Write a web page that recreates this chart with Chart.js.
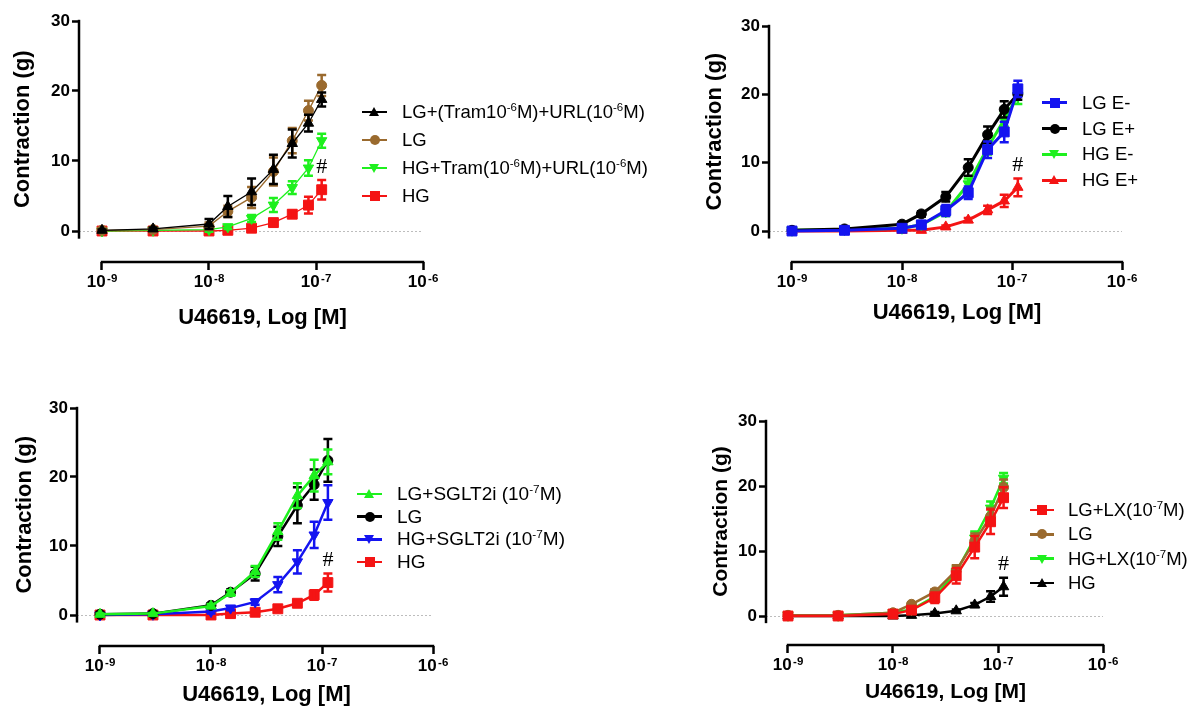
<!DOCTYPE html>
<html lang="en">
<head>
<meta charset="UTF-8">
<title>U46619 contraction curves</title>
<script src="https://cdn.jsdelivr.net/npm/chart.js"></script>
<style>
  body { margin:0; background:#fff; width:1196px; height:709px; position:relative; overflow:hidden;
         font-family:'Liberation Sans', Arial, sans-serif; }
  canvas { position:absolute; }
  .legend { position:absolute; color:#000; }
  .legend .row { display:flex; align-items:center; white-space:nowrap; }
  .legend .key { position:relative; height:12px; flex:none; }
  .legend .ln { position:absolute; left:0; right:0; top:50%; }
  .legend .mk { position:absolute; left:50%; top:50%; }
  .legend sup { font-size:0.62em; line-height:0; vertical-align:0.62em; }
</style>
</head>
<body>

<canvas id="chartA" width="450" height="340" style="left:0;top:0"></canvas>
<canvas id="chartB" width="460" height="340" style="left:690px;top:0"></canvas>
<canvas id="chartC" width="460" height="319" style="left:0;top:390px"></canvas>
<canvas id="chartD" width="440" height="309" style="left:690px;top:400px"></canvas>

<div class="legend" id="legendA"></div>
<div class="legend" id="legendB"></div>
<div class="legend" id="legendC"></div>
<div class="legend" id="legendD"></div>

<script>
// ---- dados ----
const conc = [1e-9, 3e-9, 1e-8, 1.5e-8, 2.5e-8, 4e-8, 6e-8, 8.5e-8, 1.13e-7];
const xTicks = [1e-9, 1e-8, 1e-7, 1e-6];
const yTicks = [0, 10, 20, 30];
const xTitle = 'U46619, Log [M]';
const yTitle = 'Contraction (g)';

// painel A
const aNames = ['LG+(Tram10<sup>-6</sup>M)+URL(10<sup>-6</sup>M)', 'LG', 'HG+Tram(10<sup>-6</sup>M)+URL(10<sup>-6</sup>M)', 'HG'];
const aLGTram = [0.1, 0.3, 1.0, 3.5, 5.6, 8.8, 12.5, 15.4, 18.8];
const aLGTramErr = [0.1, 0.2, 0.7, 1.5, 1.9, 2.1, 2.0, 1.2, 1.0];
const aLG = [0.1, 0.2, 0.7, 2.8, 4.8, 8.5, 12.9, 17.2, 20.8];
const aLGErr = [0.1, 0.1, 0.5, 0.8, 1.5, 2.0, 1.8, 1.4, 1.5];
const aHGTram = [0.0, 0.1, 0.2, 0.6, 1.8, 3.7, 6.2, 9.0, 12.9];
const aHGTramErr = [0.1, 0.1, 0.3, 0.3, 0.5, 1.0, 0.9, 1.1, 1.0];
const aHG = [0.0, 0.0, 0.0, 0.1, 0.4, 1.2, 2.4, 3.7, 5.9];
const aHGErr = [0, 0, 0.1, 0.2, 0.3, 0.4, 0.5, 1.2, 1.4];

// painel B
const bNames = ['LG E-', 'LG E+', 'HG E-', 'HG E+'];
const bLGminus = [0.0, 0.1, 0.4, 0.9, 3.0, 5.6, 11.9, 14.5, 20.8];
const bLGminusErr = [0.1, 0.1, 0.3, 0.4, 0.8, 0.9, 1.2, 1.5, 1.2];
const bLGplus = [0.1, 0.3, 1.0, 2.5, 5.0, 9.3, 14.1, 17.8, 20.0];
const bLGplusErr = [0.1, 0.1, 0.3, 0.4, 0.7, 1.2, 1.2, 1.2, 0.8];
const bHGminus = [0.1, 0.2, 0.4, 0.9, 2.8, 6.9, 12.2, 16.3, 19.8];
const bHGminusErr = [0.1, 0.1, 0.3, 0.3, 0.6, 0.8, 1.0, 1.0, 1.2];
const bHGplus = [0.0, 0.0, 0.1, 0.1, 0.6, 1.6, 3.1, 4.4, 6.4];
const bHGplusErr = [0, 0, 0.1, 0.2, 0.2, 0.3, 0.6, 0.9, 1.3];

// painel C
const cNames = ['LG+SGLT2i (10<sup>-7</sup>M)', 'LG', 'HG+SGLT2i (10<sup>-7</sup>M)', 'HG'];
const cLGSglt = [0.1, 0.2, 1.3, 3.2, 6.3, 12.1, 17.3, 20.2, 22.2];
const cLGSgltErr = [0.1, 0.1, 0.3, 0.4, 0.8, 1.2, 1.8, 2.3, 1.8];
const cLG = [0.1, 0.2, 1.4, 3.3, 6.0, 11.4, 15.9, 18.9, 22.4];
const cLGErr = [0.1, 0.1, 0.3, 0.4, 1.0, 1.4, 2.6, 2.2, 3.1];
const cHGSglt = [0.0, 0.1, 0.5, 1.0, 1.9, 4.4, 7.7, 11.6, 16.3];
const cHGSgltErr = [0.1, 0.1, 0.3, 0.3, 0.4, 1.1, 1.7, 1.9, 2.5];
const cHG = [0.0, 0.0, 0.0, 0.2, 0.4, 0.9, 1.7, 2.9, 4.7];
const cHGErr = [0, 0, 0.1, 0.2, 0.2, 0.2, 0.3, 0.7, 1.3];

// painel D
const dNames = ['LG+LX(10<sup>-7</sup>M)', 'LG', 'HG+LX(10<sup>-7</sup>M)', 'HG'];
const dLGLx = [0.0, 0.0, 0.3, 0.9, 2.8, 6.2, 10.6, 14.5, 18.2];
const dLGLxErr = [0.1, 0.1, 0.2, 0.3, 0.8, 1.2, 1.7, 1.9, 1.6];
const dLG = [0.1, 0.1, 0.5, 1.8, 3.7, 7.0, 11.5, 15.3, 19.8];
const dLGErr = [0.1, 0.1, 0.2, 0.3, 0.4, 0.8, 1.2, 1.3, 1.2];
const dHGLx = [0.1, 0.1, 0.5, 1.0, 3.0, 6.8, 12.0, 16.6, 21.2];
const dHGLxErr = [0.1, 0.1, 0.2, 0.3, 0.5, 0.8, 1.0, 1.0, 0.8];
const dHG = [0.0, 0.0, 0.0, 0.1, 0.4, 0.8, 1.7, 3.0, 4.5];
const dHGErr = [0, 0, 0.1, 0.1, 0.2, 0.2, 0.3, 0.8, 1.4];

// ---- cores e estilos ----
const BLACK = '#000000', BROWN = '#9a6a2e', GREEN = '#1ef01e', RED = '#f41414', BLUE = '#1414f0';
const FONT = "'Liberation Sans', Arial, sans-serif";
Chart.defaults.font.family = FONT;

// geometria de cada painel (px da página)
const layouts = {
  A: { left: 0, top: 0, w: 450, h: 340, axisX: 79, y30: 21, zeroY: 231, xAxisY: 262, x1e9: 102, xEnd: 423,
       yTitleX: 23, xTitleY: 318, titleSize: 22, lineW: 1.3,
       legend: { left: 362, first: 112, gap: 28, size: 18.5, key: 25, space: 15 } },
  B: { left: 690, top: 0, w: 460, h: 340, axisX: 769, y30: 26, zeroY: 231, xAxisY: 262, x1e9: 792, xEnd: 1122,
       yTitleX: 715, xTitleY: 313, titleSize: 22, lineW: 3,
       legend: { left: 1042, first: 103, gap: 25.7, size: 18.5, key: 25, space: 15 } },
  C: { left: 0, top: 390, w: 460, h: 319, axisX: 77, y30: 408, zeroY: 615, xAxisY: 646, x1e9: 100, xEnd: 433,
       yTitleX: 25, xTitleY: 695, titleSize: 22, lineW: 2.5,
       legend: { left: 357, first: 494, gap: 22.7, size: 19, key: 25, space: 15 } },
  D: { left: 690, top: 400, w: 440, h: 309, axisX: 766, y30: 421, zeroY: 616, xAxisY: 645, x1e9: 788, xEnd: 1103,
       yTitleX: 721, xTitleY: 692, titleSize: 21, lineW: 2.5,
       legend: { left: 1030, first: 510, gap: 24.3, size: 18.5, key: 24, space: 14 } }
};

const panels = [
  { id: 'A', names: aNames, values: [aLGTram, aLG, aHGTram, aHG], errors: [aLGTramErr, aLGErr, aHGTramErr, aHGErr],
    colors: [BLACK, BROWN, GREEN, RED], markers: ['up', 'circle', 'down', 'square'], hashIndex: 3 },
  { id: 'B', names: bNames, values: [bLGminus, bLGplus, bHGminus, bHGplus], errors: [bLGminusErr, bLGplusErr, bHGminusErr, bHGplusErr],
    colors: [BLUE, BLACK, GREEN, RED], markers: ['square', 'circle', 'down', 'up'], hashIndex: 3 },
  { id: 'C', names: cNames, values: [cLGSglt, cLG, cHGSglt, cHG], errors: [cLGSgltErr, cLGErr, cHGSgltErr, cHGErr],
    colors: [GREEN, BLACK, BLUE, RED], markers: ['up', 'circle', 'down', 'square'], hashIndex: 3 },
  { id: 'D', names: dNames, values: [dLGLx, dLG, dHGLx, dHG], errors: [dLGLxErr, dLGErr, dHGLxErr, dHGErr],
    colors: [RED, BROWN, GREEN, BLACK], markers: ['square', 'circle', 'down', 'up'], hashIndex: 3 }
];

const markerStyle = {
  up:     { pointStyle: 'triangle', pointRotation: 0,   pointRadius: 6 },
  down:   { pointStyle: 'triangle', pointRotation: 180, pointRadius: 6 },
  circle: { pointStyle: 'circle',   pointRotation: 0,   pointRadius: 5 },
  square: { pointStyle: 'rect',     pointRotation: 0,   pointRadius: 7 }
};

// barras de erro (SEM), desenhadas logo depois de cada série
const errorBars = {
  id: 'errorBars',
  afterDatasetDraw(chart, args) {
    const ds = chart.data.datasets[args.index];
    if (!ds.errorBars) return;
    const ys = chart.scales.y, ctx = chart.ctx;
    ctx.save();
    ctx.strokeStyle = ds.borderColor;
    ctx.lineWidth = 2.5;
    args.meta.data.forEach((pt, i) => {
      const e = ds.errorBars[i];
      if (!e) return;
      const v = ds.data[i].y;
      const t = ys.getPixelForValue(v + e), b = ys.getPixelForValue(v - e);
      ctx.beginPath();
      ctx.moveTo(pt.x, t); ctx.lineTo(pt.x, b);
      ctx.moveTo(pt.x - 4.5, t); ctx.lineTo(pt.x + 4.5, t);
      ctx.moveTo(pt.x - 4.5, b); ctx.lineTo(pt.x + 4.5, b);
      ctx.stroke();
    });
    ctx.restore();
  }
};

// eixos destacados estilo Prism + rótulos 10^n + títulos + '#'
const prismAxes = {
  id: 'prismAxes',
  afterDraw(chart, args, o) {
    const ctx = chart.ctx, xs = chart.scales.x, ys = chart.scales.y, area = chart.chartArea;
    const g = o.g;
    ctx.save();
    ctx.strokeStyle = '#000';
    ctx.lineWidth = 2.5;
    const yTop = ys.getPixelForValue(yTicks[yTicks.length - 1]) - 1.2;
    const yBot = ys.getPixelForValue(-1.1);
    ctx.beginPath();
    ctx.moveTo(area.left, yTop); ctx.lineTo(area.left, yBot);
    ctx.stroke();
    const x0 = xs.getPixelForValue(xTicks[0]), x1 = xs.getPixelForValue(xTicks[xTicks.length - 1]);
    ctx.beginPath();
    ctx.moveTo(x0 - 1.2, area.bottom); ctx.lineTo(x1 + 1.2, area.bottom);
    ctx.stroke();

    // rótulos do eixo x: 10 com expoente
    ctx.fillStyle = '#000';
    ctx.textBaseline = 'alphabetic';
    ctx.textAlign = 'left';
    xTicks.forEach(v => {
      const px = xs.getPixelForValue(v);
      const exp = String(Math.round(Math.log10(v)));
      ctx.font = 'bold 17px ' + FONT;
      const wb = ctx.measureText('10').width;
      ctx.font = 'bold 11.5px ' + FONT;
      const we = ctx.measureText(exp).width;
      const sx = px - (wb + 1.5 + we) / 2;
      ctx.font = 'bold 17px ' + FONT;
      ctx.fillText('10', sx, area.bottom + 25);
      ctx.font = 'bold 11.5px ' + FONT;
      ctx.fillText(exp, sx + wb + 1.5, area.bottom + 20);
    });

    // títulos
    ctx.font = 'bold ' + g.titleSize + 'px ' + FONT;
    ctx.textAlign = 'center';
    ctx.textBaseline = 'middle';
    ctx.fillText(xTitle, (x0 + x1) / 2, g.xTitleY - g.top);
    ctx.save();
    ctx.translate(g.yTitleX - g.left, (yTop + yBot) / 2);
    ctx.rotate(-Math.PI / 2);
    ctx.fillText(yTitle, 0, 0);
    ctx.restore();

    // '#' sobre o último ponto da série indicada
    const ds = chart.data.datasets[o.hashIndex];
    const meta = chart.getDatasetMeta(o.hashIndex);
    const last = ds.data.length - 1;
    const topV = ds.data[last].y + (ds.errorBars ? ds.errorBars[last] : 0);
    ctx.font = '22px "Liberation Serif", serif';
    ctx.fillText('#', meta.data[last].x, ys.getPixelForValue(topV) - 13);
    ctx.restore();
  }
};

function makeLegend(p, g) {
  const L = g.legend;
  const box = document.getElementById('legend' + p.id);
  box.style.left = L.left + 'px';
  box.style.top = (L.first - L.gap / 2) + 'px';
  box.style.fontSize = L.size + 'px';
  p.names.forEach((name, i) => {
    const c = p.colors[i];
    const row = document.createElement('div');
    row.className = 'row';
    row.style.height = L.gap + 'px';
    const key = document.createElement('span');
    key.className = 'key';
    key.style.width = L.key + 'px';
    key.style.marginRight = L.space + 'px';
    const ln = document.createElement('span');
    ln.className = 'ln';
    ln.style.height = g.lineW + 'px';
    ln.style.marginTop = (-g.lineW / 2) + 'px';
    ln.style.background = c;
    const mk = document.createElement('span');
    mk.className = 'mk';
    const m = p.markers[i];
    if (m === 'circle') {
      Object.assign(mk.style, { width: '10px', height: '10px', margin: '-5px 0 0 -5px', borderRadius: '50%', background: c });
    } else if (m === 'square') {
      Object.assign(mk.style, { width: '10px', height: '10px', margin: '-5px 0 0 -5px', background: c });
    } else if (m === 'up') {
      Object.assign(mk.style, { width: 0, height: 0, margin: '-5px 0 0 -5.5px', borderLeft: '5.5px solid transparent',
        borderRight: '5.5px solid transparent', borderBottom: '9px solid ' + c });
    } else {
      Object.assign(mk.style, { width: 0, height: 0, margin: '-4px 0 0 -5.5px', borderLeft: '5.5px solid transparent',
        borderRight: '5.5px solid transparent', borderTop: '9px solid ' + c });
    }
    key.appendChild(ln);
    key.appendChild(mk);
    const txt = document.createElement('span');
    txt.innerHTML = name;
    row.appendChild(key);
    row.appendChild(txt);
    box.appendChild(row);
  });
}

panels.forEach(p => {
  const g = layouts[p.id];
  const pxPerUnit = (g.zeroY - g.y30) / 30;
  const yMin = -(g.xAxisY - g.zeroY) / pxPerUnit;
  const decade = (g.xEnd - g.x1e9) / 3;
  const xMin = Math.pow(10, -9 - (g.x1e9 - g.axisX) / decade);

  const datasets = p.values.map((vals, i) => Object.assign({
    label: p.names[i],
    data: conc.map((c, k) => ({ x: c, y: vals[k] })),
    errorBars: p.errors[i],
    borderColor: p.colors[i],
    backgroundColor: p.colors[i],
    pointBackgroundColor: p.colors[i],
    pointBorderColor: p.colors[i],
    pointBorderWidth: 1,
    borderWidth: g.lineW,
    tension: 0,
    fill: false
  }, markerStyle[p.markers[i]]));

  new Chart(document.getElementById('chart' + p.id), {
    type: 'line',
    data: { datasets },
    options: {
      responsive: false,
      animation: false,
      events: [],
      layout: { padding: { left: 0, top: g.y30 - g.top, right: g.left + g.w - g.xEnd, bottom: 0 } },
      plugins: {
        legend: { display: false },
        tooltip: { enabled: false },
        prismAxes: { g: g, hashIndex: p.hashIndex }
      },
      scales: {
        x: {
          type: 'logarithmic',
          min: xMin,
          max: xTicks[xTicks.length - 1],
          border: { display: false },
          grid: { drawOnChartArea: false, drawTicks: true, tickLength: 8, tickColor: '#000', tickWidth: 2.5 },
          ticks: { display: false },
          afterBuildTicks: s => { s.ticks = xTicks.map(v => ({ value: v })); },
          afterFit: s => { s.height = g.top + g.h - g.xAxisY; }
        },
        y: {
          min: yMin,
          max: yTicks[yTicks.length - 1],
          border: { display: false, dash: [2, 2] },
          grid: {
            color: c => (c.tick && c.tick.value === 0) ? '#bdbdbd' : 'rgba(0,0,0,0)',
            lineWidth: 1, tickColor: '#000', tickWidth: 2.5, tickLength: 7
          },
          ticks: { color: '#000', padding: 2, font: { size: 17, weight: 'bold' } },
          afterBuildTicks: s => { s.ticks = yTicks.map(v => ({ value: v })); },
          afterFit: s => { s.width = g.axisX - g.left; }
        }
      }
    },
    plugins: [errorBars, prismAxes]
  });

  makeLegend(p, g);
});
</script>
</body>
</html>
